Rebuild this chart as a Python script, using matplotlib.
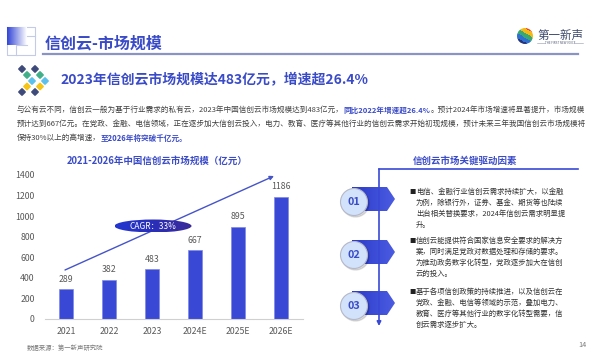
import numpy as np
import matplotlib
matplotlib.use("Agg")
from matplotlib import pyplot as plt
from matplotlib.patches import Rectangle, Polygon, Circle, Ellipse
from matplotlib.colors import LinearSegmentedColormap, ListedColormap

plt.rcParams['font.family'] = ['Noto Sans CJK SC', 'DejaVu Sans']

# data
years = ['2021', '2022', '2023', '2024E', '2025E', '2026E']
market = [289, 382, 483, 667, 895, 1186]
yticks = [0, 200, 400, 600, 800, 1000, 1200, 1400]
cagr = 'CAGR：33%'

page_title = '信创云-市场规模'
headline = '2023年信创云市场规模达483亿元，增速超26.4%'
chart_title = '2021-2026年中国信创云市场规模（亿元）'
drivers_title = '信创云市场关键驱动因素'
source = '数据来源：第一新声研究院'

# paragraph lines: (text, highlighted?)
para = [
    [('与公有云不同，信创云一般为基于行业需求的私有云，2023年中国信创云市场规模达到483亿元，', False),
     ('同比2022年增速超26.4%', True),
     ('。预计2024年市场增速将显著提升，市场规模', False)],
    [('预计达到667亿元。在党政、金融、电信领域，正在逐步加大信创云投入，电力、教育、医疗等其他行业的信创云需求开始初现规模，预计未来三年我国信创云市场规模将', False)],
    [('保持30%以上的高增速，', False), ('至2026年将突破千亿元。', True)],
]

drivers = [
    ['电信、金融行业信创云需求持续扩大，以金融',
     '为例，除银行外，证券、基金、期货等也陆续',
     '出台相关替换要求，2024年信创云需求明显提',
     '升。'],
    ['信创云能提供符合国家信息安全要求的解决方',
     '案，同时满足党政对数据处理和存储的要求。',
     '为推动政务数字化转型，党政逐步加大在信创',
     '云的投入。'],
    ['基于各项信创政策的持续推进，以及信创云在',
     '党政、金融、电信等领域的示范，叠加电力、',
     '教育、医疗等其他行业的数字化转型需要，信',
     '创云需求逐步扩大。'],
]
numbers = ['01', '02', '03']

BLUE = '#3a4bc8'
BAR = '#3949d6'
GRAY = '#595959'

W, H = 600, 355
fig = plt.figure(figsize=(6, 3.55), dpi=100)

# ---- bar chart
ax = fig.add_axes([44.5 / W, 1 - 319 / H, 258 / W, 144 / H])
x = np.arange(len(years))
ax.bar(x, market, width=0.33, color=BAR, edgecolor='#7d88e6', linewidth=0.5, zorder=2)
for xi, v in zip(x, market):
    ax.annotate(str(v), (xi, v), xytext=(0, 4), textcoords='offset points',
                ha='center', va='bottom', fontsize=6.3, color=GRAY)
ax.set_xlim(-0.5, 5.5)
ax.set_ylim(0, 1400)
ax.set_yticks(yticks)
ax.set_yticklabels([str(t) for t in yticks], fontsize=6.3, color=GRAY)
ax.set_xticks(x)
ax.set_xticklabels(years, fontsize=6.3, color=GRAY)
ax.tick_params(length=0, pad=6)
ax.tick_params(axis='y', pad=7)
for s in ['top', 'right', 'left']:
    ax.spines[s].set_visible(False)
ax.spines['bottom'].set_color('#d0d0d0')
ax.spines['bottom'].set_linewidth(0.8)
ax.patch.set_alpha(0)

# ---- overlay in pixel coords
ov = fig.add_axes([0, 0, 1, 1])
ov.set_xlim(0, W)
ov.set_ylim(H, 0)
ov.axis('off')

# top-left icon
grad = LinearSegmentedColormap.from_list('g', ['#3345d6', '#ffffff'])
ov.imshow(np.linspace(0, 1, 50)[None, :], cmap=grad, extent=(7, 27, 45, 27), aspect='auto', zorder=2)
ov.plot([7, 35, 35, 7, 7], [27, 27, 55, 55, 27], color='#c5cae6', lw=0.8, zorder=1)
ov.plot([16, 16, 27], [55, 45, 45], color='#c5cae6', lw=0.8, zorder=3)
ov.plot([27, 35], [36, 36], color='#c5cae6', lw=0.8, zorder=3)

ov.text(45, 43, page_title, fontsize=11.5, fontweight='bold', color=BLUE, va='center', ha='left')
ov.plot([43, 578], [53.5, 53.5], color='#8a93c4', lw=1.6)

# logo
stripes = ListedColormap(['#e8432c', '#f5b914', '#3aa874', '#2f6fd0', '#26357a'])
ii, jj = np.mgrid[0:30, 0:30]
logo = ov.imshow(((ii - jj * 0.6 + 18) // 9) % 5, cmap=stripes, extent=(517, 533, 44, 28),
                 aspect='auto', interpolation='nearest', zorder=3)
logo.set_clip_path(Circle((525, 36), 8, transform=ov.transData))
ov.text(537, 35, '第一新声', fontsize=8.3, color='#3d4a6e', va='center', ha='left')
ov.text(560, 42.8, 'THE FIRST NEW VOICE', fontsize=2.2, color='#5a607a', va='center', ha='center')
ov.plot([537, 545], [42.8, 42.8], color='#9098b0', lw=0.4)
ov.plot([575, 583], [42.8, 42.8], color='#9098b0', lw=0.4)

# chevron icon
chev = [((22, 69), '#3d4a7a'), ((27, 75), '#3fb08a'), ((32, 81), '#5bc0eb'),
        ((27, 86.5), '#f5c518'), ((22, 92), '#3d4a7a')]
for dx in (0, 13):
    for (cx, cy), c in chev:
        ov.add_patch(Polygon([(cx + dx - 3.3, cy), (cx + dx, cy - 3.3), (cx + dx + 3.3, cy), (cx + dx, cy + 3.3)],
                             closed=True, color=c, zorder=3))

ov.text(60, 80, headline, fontsize=10, fontweight='bold', color=BLUE, va='center', ha='left')

# paragraph with inline highlights
fig.canvas.draw()
r = fig.canvas.get_renderer()
line_y = [110, 124, 138]
for li, parts in enumerate(para):
    fs = 5.5
    if li < 2:
        # justify by scaling the font size to fill the line
        total = 0
        for s, hl in parts:
            t = ov.text(0, 0, s, fontsize=fs, fontweight='bold' if hl else 'normal')
            total += t.get_window_extent(renderer=r).width
            t.remove()
        fs = fs * 565 / total
    xx = 17
    for s, hl in parts:
        t = ov.text(xx, line_y[li], s, fontsize=fs, va='center', ha='left',
                    color=BLUE if hl else '#404040', fontweight='bold' if hl else 'normal')
        xx += t.get_window_extent(renderer=r).width

ov.text(157, 161, chart_title, fontsize=6.8, fontweight='bold', color=BLUE, va='center', ha='center')

# CAGR arrow + ellipse
ov.annotate('', xy=(274, 176), xytext=(65, 270),
            arrowprops=dict(arrowstyle='-|>', color='#4554c8', lw=1, mutation_scale=6, shrinkA=0, shrinkB=0))
eg = LinearSegmentedColormap.from_list('e', ['#2436d0', '#2a2fb8', '#3b2a98'])
eimg = ov.imshow(np.linspace(0, 1, 60)[None, :], cmap=eg, extent=(114.5, 191.5, 232.5, 219.5),
                 aspect='auto', zorder=4)
eimg.set_clip_path(Ellipse((153, 226), 77, 13, transform=ov.transData))
ov.text(153, 226.3, cagr, fontsize=6, color='white', va='center', ha='center', zorder=5)

ov.text(27, 348, source, fontsize=4.6, color='#7a7a7a', va='center', ha='left')
ov.text(582, 345, '14', fontsize=5.2, color='#7a7a7a', va='center', ha='center')

# ---- drivers panel
ov.text(465, 161, drivers_title, fontsize=6.8, fontweight='bold', color=BLUE, va='center', ha='center')
ov.plot([379, 578], [169, 169], color=BAR, lw=1.2, zorder=3)
ov.annotate('', xy=(379, 326), xytext=(379, 169),
            arrowprops=dict(arrowstyle='-|>', color=BAR, lw=1.2, mutation_scale=6, shrinkA=0, shrinkB=0),
            zorder=6)

tabg = LinearSegmentedColormap.from_list('t', ['#2b3ac8', '#4b5ce2'])
centers = [202, 255, 306]
text_y0 = [192, 241, 292]
for num, cy, ty, lines in zip(numbers, centers, text_y0, drivers):
    tab = Polygon([(352, cy - 15), (387, cy - 15), (395, cy - 3), (387, cy + 9), (352, cy + 9)],
                  closed=True, transform=ov.transData)
    timg = ov.imshow(np.linspace(0, 1, 40)[None, :], cmap=tabg, extent=(352, 395, cy + 9, cy - 15),
                     aspect='auto', zorder=3)
    timg.set_clip_path(tab)
    ov.add_patch(Circle((355.5, cy + 1.5), 13.5, color='#000000', alpha=0.12, zorder=4))
    ov.add_patch(Circle((354, cy), 13.5, facecolor='#d2e2fb', edgecolor='#b4b8c8', lw=0.8, zorder=5))
    ov.text(354, cy, num, fontsize=7.8, fontweight='bold', color=BLUE, va='center', ha='center', zorder=6)
    ov.text(409, ty, '■', fontsize=4.5, color='#222222', va='center', ha='left')
    for k, ln in enumerate(lines):
        ov.text(416, ty + k * 11, ln, fontsize=5.3, color='#333333', va='center', ha='left')

fig.savefig('out.png', dpi=100)
